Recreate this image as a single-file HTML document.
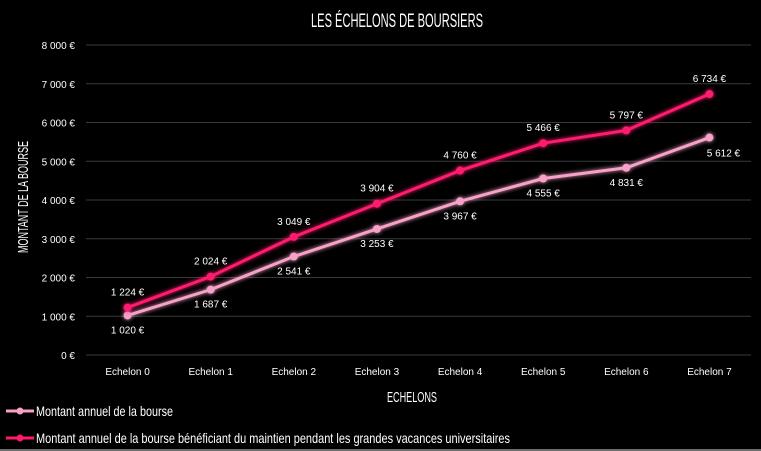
<!DOCTYPE html>
<html><head><meta charset="utf-8"><style>
body{margin:0;background:#000;width:761px;height:451px;overflow:hidden}
svg{display:block}
</style></head><body>
<svg id="chart" width="761" height="451" xmlns="http://www.w3.org/2000/svg">
<defs>
<filter id="glow" x="-20%" y="-20%" width="140%" height="140%"><feGaussianBlur stdDeviation="2.2" result="b"/><feMerge><feMergeNode in="b"/><feMergeNode in="SourceGraphic"/></feMerge></filter>
</defs>
<rect width="761" height="451" fill="#000"/>
<text x="397" y="27" fill="#fff" font-family="Liberation Sans Narrow, Liberation Sans, sans-serif" font-size="19" text-anchor="middle" textLength="172" lengthAdjust="spacingAndGlyphs">LES ÉCHELONS DE BOURSIERS</text>
<text transform="translate(28,197) rotate(-90)" fill="#fff" font-family="Liberation Sans Narrow, Liberation Sans, sans-serif" font-size="15" text-anchor="middle" textLength="112" lengthAdjust="spacingAndGlyphs">MONTANT DE LA BOURSE</text>
<text x="412" y="402" fill="#fff" font-family="Liberation Sans Narrow, Liberation Sans, sans-serif" font-size="15" text-anchor="middle" textLength="50" lengthAdjust="spacingAndGlyphs">ECHELONS</text>
<g id="grid"></g><g id="series"></g>
<g>
<g>
<line x1="6" y1="411" x2="34" y2="411" stroke="#f7a0c8" stroke-width="3"/><circle cx="20" cy="411" r="3.5" fill="#f7a0c8"/>
<text x="36" y="416" fill="#fff" font-family="Liberation Sans Narrow, Liberation Sans, sans-serif" font-size="14" textLength="137" lengthAdjust="spacingAndGlyphs">Montant annuel de la bourse</text></g>
<g>
<line x1="6" y1="438" x2="34" y2="438" stroke="#ff1a6e" stroke-width="3"/><circle cx="20" cy="438" r="3.5" fill="#ff1a6e"/>
<text x="36" y="443" fill="#fff" font-family="Liberation Sans Narrow, Liberation Sans, sans-serif" font-size="14" textLength="474" lengthAdjust="spacingAndGlyphs">Montant annuel de la bourse bénéficiant du maintien pendant les grandes vacances universitaires</text></g>
</g>
<line x1="0" y1="450" x2="761" y2="450" stroke="#ddd" stroke-width="1"/>
</svg>
<script>
const categories=["Echelon 0","Echelon 1","Echelon 2","Echelon 3","Echelon 4","Echelon 5","Echelon 6","Echelon 7"];
const bourse=[1020,1687,2541,3253,3967,4555,4831,5612];
const bourseMaintien=[1224,2024,3049,3904,4760,5466,5797,6734];
const yTicks=[0,1000,2000,3000,4000,5000,6000,7000,8000];
const NS="http://www.w3.org/2000/svg";
const x0=86,x1=751,yTop=45,yBot=355,yMax=8000;
const step=(x1-x0)/categories.length;
function xs(i){return x0+step*(i+0.5);}
function ys(v){return yBot-(v/yMax)*(yBot-yTop);}
function fmt(v){const s=String(v);return (s.length>3?s.slice(0,-3)+" "+s.slice(-3):s)+" €";}
function mk(tag,attrs,parent){const e=document.createElementNS(NS,tag);for(const k in attrs)e.setAttribute(k,attrs[k]);parent.appendChild(e);return e;}
const grid=document.getElementById('grid'),ser=document.getElementById('series');
const F="Liberation Sans, sans-serif";
yTicks.forEach(t=>{
 const l=mk('line',{x1:x0,x2:x1,y1:ys(t),y2:ys(t),stroke:'#3a3a3a','stroke-width':1},grid);
 
 
 const tx=mk('text',{x:75,y:ys(t)+4,fill:'#fff','font-family':F,'font-size':10,'text-anchor':'end'},grid);
 tx.textContent=fmt(t);
 
 
});
categories.forEach((c,i)=>{
 const tx=mk('text',{x:xs(i),y:375,fill:'#fff','font-family':F,'font-size':10,'text-anchor':'middle'},grid);
 tx.textContent=c;
 
 
});
function drawSeries(vals,color,name,above){
 const g=mk('g',{filter:'url(#glow)'},ser);
 
 
 const p=mk('polyline',{points:vals.map((v,i)=>xs(i)+','+ys(v)).join(' '),fill:'none',stroke:color,'stroke-width':3,'stroke-linejoin':'round'},g);
 
 
 vals.forEach((v,i)=>{
  const c=mk('circle',{cx:xs(i),cy:ys(v),r:4,fill:color},g);
  
  
 });
 vals.forEach((v,i)=>{
  let lx=xs(i),ly=above?ys(v)-12:ys(v)+18;
  if(!above&&i===categories.length-1){lx+=14;ly=ys(v)+19;}
  const t=mk('text',{x:lx,y:ly,fill:'#fff','font-family':F,'font-size':10,'text-anchor':'middle'},ser);
  t.textContent=fmt(v);
  
  
 });
}
drawSeries(bourse,'#f7a0c8','series-bourse',false);
drawSeries(bourseMaintien,'#ff1a6e','series-bourse-maintien',true);
</script>
</body></html>
